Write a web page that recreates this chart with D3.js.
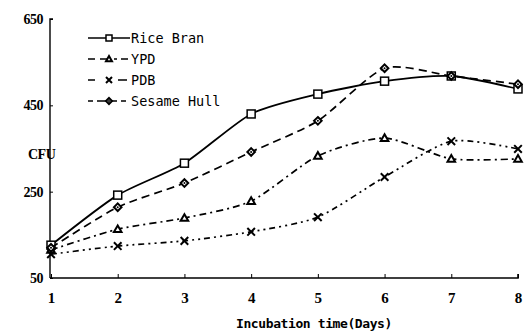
<!DOCTYPE html>
<html>
<head>
<meta charset="utf-8">
<script src="https://cdn.jsdelivr.net/npm/d3@7"></script>
<style>
  body { margin: 0; background: #fff; }
  text { fill: #000; }
</style>
</head>
<body>
<div id="container"></div>
<script>
// chart values
const days = [1, 2, 3, 4, 5, 6, 7, 8];
const riceBran = [126, 242, 316, 430, 476, 506, 518, 488];
const ypd = [115, 163, 189, 228, 333, 374, 326, 326];
const pdb = [105, 124, 136, 157, 191, 284, 367, 349];
const sesameHull = [120, 214, 270, 342, 414, 536, 518, 499];
const yTicks = [50, 250, 450, 650];
const seriesNames = ["Rice Bran", "YPD", "PDB", "Sesame Hull"];

const series = [
  {name: seriesNames[0], values: riceBran, dash: null, marker: "square"},
  {name: seriesNames[1], values: ypd, dash: "7,4,2,4", marker: "triangle"},
  {name: seriesNames[2], values: pdb, dash: "6,4,2,4,2,4", marker: "cross"},
  {name: seriesNames[3], values: sesameHull, dash: "8,5", marker: "diamond"}
];

const svg = d3.select("#container")
  .append("svg")
  .attr("width", 530)
  .attr("height", 334);

let x = d3.scaleLinear().domain([1, 8]).range([51, 518]);
let y = d3.scaleLinear().domain([50, 650]).range([278, 19]);

// axes
let xAxisG = svg.append("g").attr("transform", "translate(0,278)");
xAxisG.call(d3.axisBottom(x).tickValues(days).tickSize(-4).tickPadding(14).tickFormat(d3.format("d")));
xAxisG.select(".domain").attr("d", `M${x(1) - 1},0H${x(8)}V-4`).attr("stroke-width", 1.6);
xAxisG.selectAll(".tick line").attr("stroke-width", 1);
xAxisG.selectAll(".tick text")
  .attr("font-family", "Liberation Serif")
  .attr("font-weight", "bold")
  .attr("font-size", 15);

let yAxisG = svg.append("g").attr("transform", "translate(50,0)");
yAxisG.call(d3.axisLeft(y).tickValues(yTicks).tickSize(-3).tickPadding(7));
yAxisG.select(".domain").attr("d", `M3,${y(650)}H0V${y(50)}`).attr("stroke-width", 1.4);
yAxisG.selectAll(".tick text")
  .attr("font-family", "Liberation Serif")
  .attr("font-weight", "bold")
  .attr("font-size", 14)
  .attr("letter-spacing", -0.5);

svg.append("text")
  .attr("x", 28).attr("y", 159)
  .attr("font-family", "Liberation Serif")
  .attr("font-weight", "bold")
  .attr("font-size", 14)
  .attr("letter-spacing", -0.5)
  .text("CFU");

svg.append("text")
  .attr("x", 314).attr("y", 328)
  .attr("text-anchor", "middle")
  .attr("font-family", "DejaVu Sans Mono")
  .attr("font-weight", "bold")
  .attr("font-size", 13)
  .attr("letter-spacing", -0.4)
  .text("Incubation time(Days)");

// markers, r is half size
function drawMarker(g, type, cx, cy, r) {
  if (type == "square") {
    g.append("rect").attr("x", cx - r).attr("y", cy - r).attr("width", 2 * r).attr("height", 2 * r)
      .attr("fill", "#fff").attr("stroke", "#000").attr("stroke-width", 1.5);
  } else if (type == "triangle") {
    g.append("path").attr("d", `M${cx},${cy - r}L${cx + r},${cy + r * 0.75}L${cx - r},${cy + r * 0.75}Z`)
      .attr("fill", "#fff").attr("stroke", "#000").attr("stroke-width", 2);
  } else if (type == "cross") {
    g.append("path").attr("d", `M${cx - r},${cy - r}L${cx + r},${cy + r}M${cx - r},${cy + r}L${cx + r},${cy - r}`)
      .attr("stroke", "#000").attr("stroke-width", 2);
  } else {
    g.append("path").attr("d", `M${cx},${cy - r}L${cx + r},${cy}L${cx},${cy + r}L${cx - r},${cy}Z`)
      .attr("fill", "#fff").attr("stroke", "#000").attr("stroke-width", 2);
    g.append("circle").attr("cx", cx).attr("cy", cy).attr("r", 1).attr("fill", "#000");
  }
}

let line = d3.line()
  .x((d, i) => x(days[i]))
  .y(d => y(d))
  .curve(d3.curveCardinal.tension(0.3));

series.forEach(s => {
  svg.append("path")
    .attr("d", line(s.values))
    .attr("fill", "none")
    .attr("stroke", "#000")
    .attr("stroke-width", s.dash ? 1.7 : 1.8)
    .attr("stroke-dasharray", s.dash);
  let mg = svg.append("g");
  s.values.forEach((v, i) => drawMarker(mg, s.marker, x(days[i]), y(v), s.marker == "square" ? 4 : 3.8));
});

// legend
let legend = svg.append("g");
series.forEach((s, i) => {
  let ly = 38 + i * 21;
  legend.append("line")
    .attr("x1", 88).attr("x2", 130).attr("y1", ly).attr("y2", ly)
    .attr("stroke", "#000").attr("stroke-width", 1.7)
    .attr("stroke-dasharray", s.dash ? (i == 1 ? "7,5,10,4,3,4" : i == 2 ? "7,6,0,17,9" : "5,4,20,4") : null);
  drawMarker(legend, s.marker, 109, ly, 3);
  legend.append("text")
    .attr("x", 131).attr("y", ly + 5)
    .attr("font-family", "DejaVu Sans Mono")
    .attr("font-size", 13.5)
    .text(s.name);
});
</script>
</body>
</html>
